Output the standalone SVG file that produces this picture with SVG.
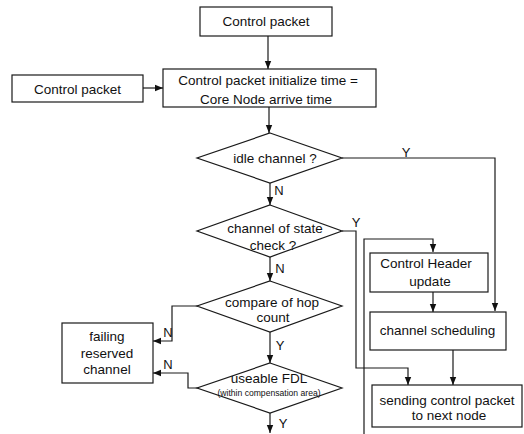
<svg xmlns="http://www.w3.org/2000/svg" width="524" height="434" viewBox="0 0 524 434">
<defs>
<style>
.box{fill:#fff;stroke:#1a1a1a;stroke-width:1.2}
.dia{fill:#fff;stroke:#1a1a1a;stroke-width:1.2}
.t{font-family:"Liberation Sans",Arial,sans-serif;font-size:13.5px;fill:#111;text-anchor:middle}
.s{font-family:"Liberation Sans",Arial,sans-serif;font-size:8.6px;fill:#111;text-anchor:middle}
.lb{font-family:"Liberation Sans",Arial,sans-serif;font-size:13px;fill:#111;text-anchor:middle}
.c{fill:none;stroke:#1a1a1a;stroke-width:1.2}
</style>
<marker id="ah" viewBox="0 0 10 10" refX="10" refY="5" markerWidth="8" markerHeight="8" markerUnits="userSpaceOnUse" orient="auto">
<path d="M0,1 L10,5 L0,9 Z" fill="#111"/>
</marker>
</defs>
<rect width="524" height="434" fill="#fff"/>
<g id="connectors">
<path class="c" d="M268,36 V69" marker-end="url(#ah)"/>
<path class="c" d="M143,88 H163" marker-end="url(#ah)"/>
<path class="c" d="M269,107 V133" marker-end="url(#ah)"/>
<path class="c" d="M270,183 V205" marker-end="url(#ah)"/>
<path class="c" d="M342,158 H495 V311" marker-end="url(#ah)"/>
<path class="c" d="M342,231 H356 V368 H408 V385" marker-end="url(#ah)"/>
<path class="c" d="M270,257 V281" marker-end="url(#ah)"/>
<path class="c" d="M198,306 H172 V341 H153" marker-end="url(#ah)"/>
<path class="c" d="M270,332 V363" marker-end="url(#ah)"/>
<path class="c" d="M198,388 H188 V373 H153" marker-end="url(#ah)"/>
<path class="c" d="M270,413 V433" marker-end="url(#ah)"/>
<path class="c" d="M364,434 V239 H433 V252" marker-end="url(#ah)"/>
<path class="c" d="M433,292 V312" marker-end="url(#ah)"/>
<path class="c" d="M453,350 V385" marker-end="url(#ah)"/>
<text class="lb" x="406" y="157">Y</text>
<text class="lb" x="279" y="195">N</text>
<text class="lb" x="356" y="227">Y</text>
<text class="lb" x="280" y="273">N</text>
<text class="lb" x="168" y="337">N</text>
<text class="lb" x="280" y="350">Y</text>
<text class="lb" x="168" y="369">N</text>
<text class="lb" x="283" y="428">Y</text>
</g>
<g id="start">
<rect class="box" x="200" y="7" width="132" height="29"/>
<text class="t" x="266" y="26">Control packet</text>
</g>
<g id="side-packet">
<rect class="box" x="12" y="75" width="131" height="27"/>
<text class="t" x="77.5" y="94">Control packet</text>
</g>
<g id="init">
<rect class="box" x="163" y="69" width="213" height="38"/>
<text class="t" x="268" y="85">Control packet initialize time =</text>
<text class="t" x="266" y="104">Core Node arrive time</text>
</g>
<g id="idle">
<polygon class="dia" points="270,133 342,158 270,183 197,158"/>
<text class="t" x="275" y="163">idle channel ?</text>
</g>
<g id="state">
<polygon class="dia" points="270,205 342,231 270,257 197,231"/>
<text class="t" x="275" y="233">channel of state</text>
<text class="t" x="273" y="250">check ?</text>
</g>
<g id="hop">
<polygon class="dia" points="270,281 342,306 270,332 197,306"/>
<text class="t" x="272" y="307">compare of hop</text>
<text class="t" x="273" y="322">count</text>
</g>
<g id="fdl">
<polygon class="dia" points="270,363 342,388 270,413 197,388"/>
<text class="t" x="269" y="383">useable FDL</text>
<text class="s" x="269" y="396">(within compensation area)</text>
</g>
<g id="failing">
<rect class="box" x="62" y="323" width="91" height="60"/>
<text class="t" x="107" y="341">failing</text>
<text class="t" x="107" y="358">reserved</text>
<text class="t" x="107" y="374">channel</text>
</g>
<g id="header">
<rect class="box" x="370" y="253" width="118" height="39"/>
<text class="t" x="426" y="268">Control Header</text>
<text class="t" x="430" y="286">update</text>
</g>
<g id="scheduling">
<rect class="box" x="370" y="312" width="136" height="38"/>
<text class="t" x="437.5" y="335">channel scheduling</text>
</g>
<g id="sending">
<rect class="box" x="372" y="385" width="150" height="42"/>
<text class="t" x="447" y="405">sending control packet</text>
<text class="t" x="449" y="420">to next node</text>
</g>
</svg>
